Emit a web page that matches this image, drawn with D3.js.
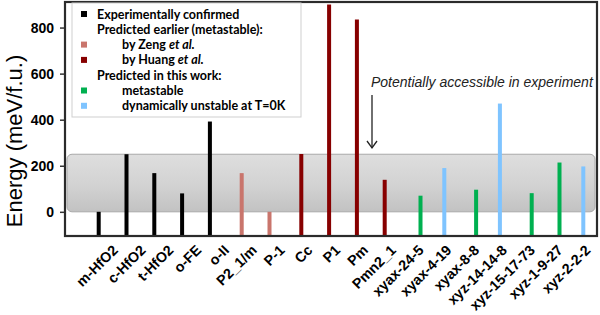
<!DOCTYPE html>
<html>
<head>
<meta charset="utf-8">
<script src="https://cdn.jsdelivr.net/npm/d3@7"></script>
<style>
  body { margin: 0; background: #fff; }
  text { font-family: Arial, "Liberation Sans", sans-serif; }
</style>
</head>
<body>
<div id="chart"></div>
<script>
// structures along the x axis
const categories = ["m-HfO2", "c-HfO2", "t-HfO2", "o-FE", "o-II", "P2_1/m", "P-1", "Cc", "P1", "Pm",
    "Pmn2_1", "xyax-24-5", "xyax-4-19", "xyax-8-8", "xyz-14-14-8", "xyz-15-17-73", "xyz-1-9-27", "xyz-2-2-2"];
// energy above m-HfO2 (meV/f.u.)
const energies = [0, 250, 168, 80, 392, 168, 0, 251, 900, 835, 139, 70, 190, 96, 470, 81, 214, 197];
// which series each structure belongs to
const seriesOf = ["exp", "exp", "exp", "exp", "exp", "zeng", "zeng", "huang", "huang", "huang",
    "huang", "meta", "unstable", "meta", "unstable", "meta", "meta", "unstable"];
// series order inside a category cluster (as in the original clustered chart)
const seriesKeys = ["exp", "zeng", "huang", "unstable", "meta"];
const seriesColors = ["#000000", "#c9756c", "#870000", "#7fc4ff", "#00b050"];
const yTicks = [0, 200, 400, 600, 800];
const accessibleRange = [0, 250];

const legendRows = [
    {key: "exp", text: "Experimentally confirmed", indent: false},
    {key: null, text: "Predicted earlier (metastable):", indent: false},
    {key: "zeng", text: "by Zeng ", italic: "et al.", indent: true},
    {key: "huang", text: "by Huang ", italic: "et al.", indent: true},
    {key: null, text: "Predicted in this work:", indent: false},
    {key: "meta", text: "metastable", indent: true},
    {key: "unstable", text: "dynamically unstable at T=0K", indent: true}
];

const W = 600, H = 315;
const plot = {left: 65, right: 597, top: 2, bottom: 236};

const svg = d3.select("#chart").append("svg")
    .attr("width", W)
    .attr("height", H);

//scales
let y = d3.scaleLinear().domain([-105, 911]).range([plot.bottom, plot.top]);

let x0 = d3.scaleBand().domain(categories)
    .range([96.7, 589.3])
    .paddingInner(0.28)
    .paddingOuter(0);

let x1 = d3.scaleBand().domain(seriesKeys)
    .range([0, x0.bandwidth()]);

let color = d3.scaleOrdinal().domain(seriesKeys).range(seriesColors);

//gradient for accessible band
let grad = svg.append("defs").append("linearGradient")
    .attr("id", "band_gradient")
    .attr("x1", "0%").attr("y1", "0%")
    .attr("x2", "0%").attr("y2", "100%");
grad.append("stop").attr("offset", "0%").attr("stop-color", "#dedede");
grad.append("stop").attr("offset", "55%").attr("stop-color", "#d2d2d2");
grad.append("stop").attr("offset", "100%").attr("stop-color", "#c2c2c2");

svg.append("rect")
    .attr("x", plot.left + 2)
    .attr("y", y(accessibleRange[1]))
    .attr("width", plot.right - plot.left - 4)
    .attr("height", y(accessibleRange[0]) - y(accessibleRange[1]))
    .attr("rx", 5)
    .style("fill", "url(#band_gradient)")
    .style("stroke", "#a8a8a8")
    .style("stroke-width", 1);

//bars
svg.selectAll(".bar")
    .data(categories)
    .enter()
    .append("rect")
    .attr("class", "bar")
    .attr("x", (d, i) => x0(d) + x1(seriesOf[i]))
    .attr("width", x1.bandwidth())
    .attr("y", (d, i) => y(energies[i]))
    .attr("height", (d, i) => plot.bottom - y(energies[i]))
    .style("fill", (d, i) => color(seriesOf[i]));

//frame
svg.append("rect")
    .attr("x", plot.left)
    .attr("y", plot.top)
    .attr("width", plot.right - plot.left)
    .attr("height", plot.bottom - plot.top)
    .style("fill", "none")
    .style("stroke", "#2b2b2b")
    .style("stroke-width", 2.2);

//y axis
let yAxis = svg.append("g")
    .attr("transform", "translate(" + (plot.left - 1) + ",0)")
    .call(d3.axisLeft(y).tickValues(yTicks).tickSize(4).tickPadding(6));
yAxis.select(".domain").remove();
yAxis.selectAll("line").style("stroke", "#333").style("stroke-width", 1.5);
yAxis.selectAll("text")
    .style("font-size", "14px")
    .style("font-weight", "bold")
    .style("font-family", "Arial, 'Liberation Sans', sans-serif")
    .style("fill", "#000");

svg.append("text")
    .attr("transform", "translate(14,141) rotate(-90)")
    .attr("text-anchor", "middle")
    .attr("dominant-baseline", "central")
    .style("font-size", "22px")
    .text("Energy (meV/f.u.)");

//x labels
svg.selectAll(".xlabel")
    .data(categories)
    .enter()
    .append("text")
    .attr("class", "xlabel")
    .attr("transform", d => {
        let cx = x0(d) + x0.bandwidth() / 2 + 5;
        return "translate(" + cx + ",244) rotate(-45)";
    })
    .attr("text-anchor", "end")
    .attr("dy", "0.7em")
    .style("font-size", "14.3px")
    .style("font-weight", "bold")
    .text(d => d);

//legend
let lg = svg.append("g");
lg.append("rect")
    .attr("x", 72)
    .attr("y", 3)
    .attr("width", 229)
    .attr("height", 114)
    .style("fill", "#fff")
    .style("stroke", "#cfcfcf")
    .style("stroke-width", 1);

let rows = lg.selectAll(".legend_row")
    .data(legendRows)
    .enter()
    .append("g")
    .attr("class", "legend_row")
    .attr("transform", (d, i) => "translate(0," + (14 + i * 15.3) + ")");

rows.filter(d => d.key !== null)
    .append("rect")
    .attr("x", 81)
    .attr("y", -3)
    .attr("width", 6)
    .attr("height", 6)
    .style("fill", d => color(d.key));

let lt = rows.append("text")
    .attr("x", d => d.indent ? 122 : 97)
    .attr("dy", "0.36em")
    .style("font-size", "12.5px")
    .style("font-weight", "bold")
    .style("font-family", "Lato, Arial, sans-serif");
lt.append("tspan").text(d => d.text);
lt.filter(d => d.italic).append("tspan")
    .style("font-style", "italic")
    .text(d => d.italic);

//annotation
svg.append("text")
    .attr("x", 371)
    .attr("y", 87)
    .style("font-size", "14px")
    .style("font-style", "italic")
    .style("fill", "#222")
    .text("Potentially accessible in experiment");

svg.append("line")
    .attr("x1", 372).attr("x2", 372)
    .attr("y1", 95).attr("y2", 148)
    .style("stroke", "#222")
    .style("stroke-width", 1.3);
svg.append("path")
    .attr("d", "M367,141 L372,148 L377,141")
    .style("fill", "none")
    .style("stroke", "#222")
    .style("stroke-width", 1.3);
</script>
</body>
</html>
